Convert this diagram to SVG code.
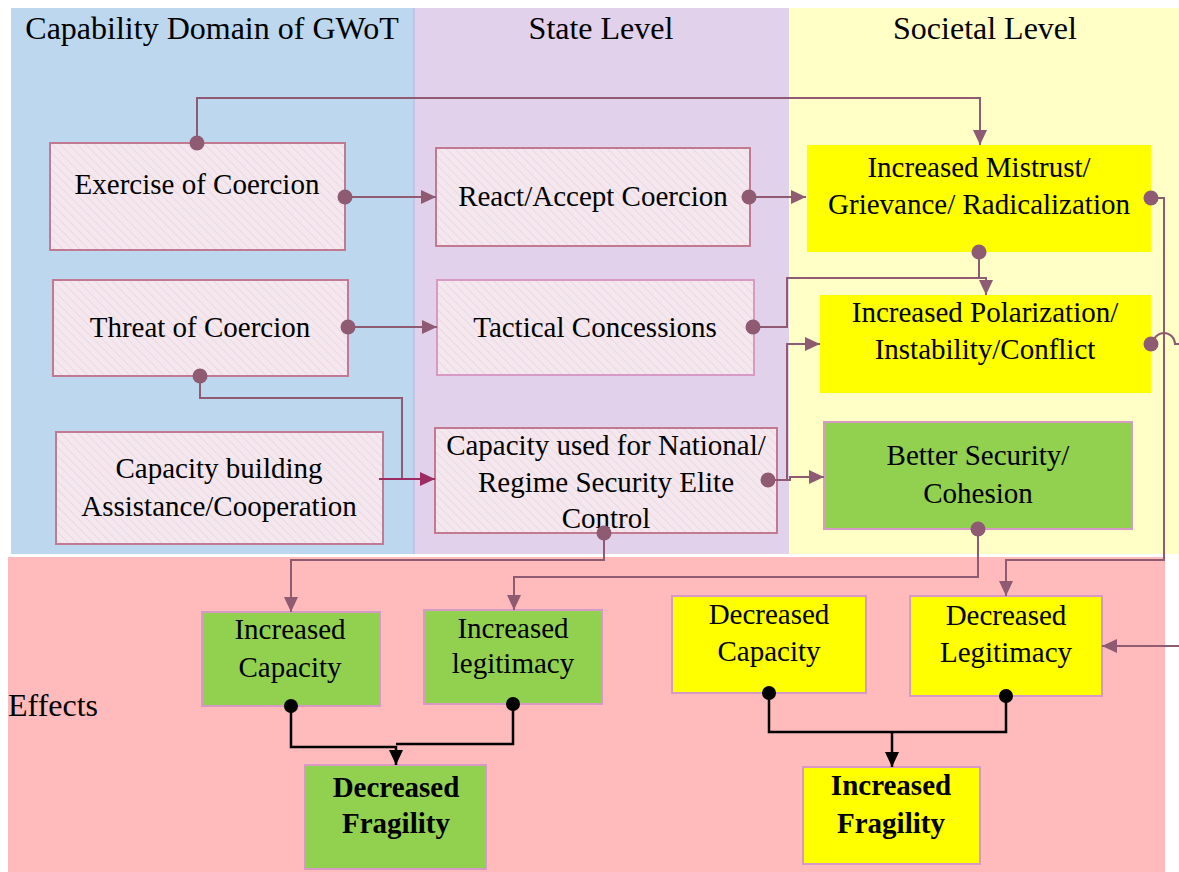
<svg xmlns="http://www.w3.org/2000/svg" width="1179" height="872" viewBox="0 0 1179 872">
<style>
text{font-family:"Liberation Serif","Times New Roman",serif;font-size:29px;fill:#000;text-anchor:middle}
.title{font-size:32px}
.bold{font-weight:bold}
.hatch{fill:url(#hatch);stroke:#C27A92;stroke-width:2}
.hatch2{fill:url(#hatch);stroke:#D79AC4;stroke-width:2}
.yel{fill:#FFFF00}
.yelb{fill:#FFFF00;stroke:#D79AC4;stroke-width:2}
.grn{fill:#92D050;stroke:#D79AC4;stroke-width:2}
.con{fill:none;stroke:#8E5B73;stroke-width:2}
.mag{fill:none;stroke:#9B2D63;stroke-width:2}
.blk{fill:none;stroke:#000;stroke-width:2.5}
.dot{fill:#8E5B73}
.bdot{fill:#000}
</style>
<defs>
<pattern id="hatch" width="6" height="6" patternUnits="userSpaceOnUse" patternTransform="rotate(-45)">
<rect width="6" height="6" fill="#F4E8EE"/>
<line x1="0" y1="0" x2="0" y2="6" stroke="#EAD3DE" stroke-width="1.5"/>
</pattern>
<marker id="arr" markerWidth="16" markerHeight="14" refX="15" refY="7" orient="auto" markerUnits="userSpaceOnUse">
<path d="M0,0 L15,7 L0,14 Z" fill="#8E5B73"/>
</marker>
<marker id="arrm" markerWidth="16" markerHeight="14" refX="15" refY="7" orient="auto" markerUnits="userSpaceOnUse">
<path d="M0,0 L15,7 L0,14 Z" fill="#9B2D63"/>
</marker>
<marker id="arrb" markerWidth="16" markerHeight="14" refX="15" refY="7" orient="auto" markerUnits="userSpaceOnUse">
<path d="M0,0 L15,7 L0,14 Z" fill="#000"/>
</marker>
</defs>

<g id="background">
<rect x="11" y="8" width="403" height="546" fill="#BDD7EE"/>
<rect x="414" y="8" width="375" height="546" fill="#E1D1EA"/>
<rect x="789" y="8" width="390" height="546" fill="#FFFFC6"/>
<line x1="414" y1="8" x2="414" y2="554" stroke="#A9B9E6" stroke-width="1"/>
<rect x="8" y="557" width="1157" height="315" fill="#FFBBBB"/>
<text class="title" x="212" y="39">Capability Domain of GWoT</text>
<text class="title" x="601" y="39">State Level</text>
<text class="title" x="985" y="39">Societal Level</text>
<text x="8" y="716" style="text-anchor:start;font-size:32px">Effects</text>
</g>

<g id="n-exercise">
<rect class="hatch" x="50" y="143" width="295" height="107"/>
<text x="197" y="194">Exercise of Coercion</text>
</g>
<g id="n-react">
<rect class="hatch" x="436" y="148" width="314" height="98"/>
<text x="593" y="206">React/Accept Coercion</text>
</g>
<g id="n-mistrust">
<rect class="yel" x="807" y="145" width="344" height="107"/>
<text x="979" y="177">Increased Mistrust/</text>
<text x="979" y="214">Grievance/ Radicalization</text>
</g>
<g id="n-threat">
<rect class="hatch" x="53" y="280" width="295" height="96"/>
<text x="200" y="337">Threat of Coercion</text>
</g>
<g id="n-tactical">
<rect class="hatch2" x="437" y="280" width="317" height="95"/>
<text x="595" y="337">Tactical Concessions</text>
</g>
<g id="n-polarization">
<rect class="yel" x="820" y="295" width="331" height="98"/>
<text x="985" y="322">Increased Polarization/</text>
<text x="985" y="359">Instability/Conflict</text>
</g>
<g id="n-capbuild">
<rect class="hatch" x="56" y="432" width="327" height="112"/>
<text x="219" y="478">Capacity building</text>
<text x="219" y="516">Assistance/Cooperation</text>
</g>
<g id="n-capused">
<rect class="hatch" x="435" y="428" width="342" height="105"/>
<text x="606" y="455">Capacity used for National/</text>
<text x="606" y="492">Regime Security Elite</text>
<text x="606" y="528">Control</text>
</g>
<g id="n-better">
<rect class="grn" x="824" y="422" width="308" height="107"/>
<text x="978" y="465">Better Security/</text>
<text x="978" y="503">Cohesion</text>
</g>
<g id="n-inccap">
<rect class="grn" x="202" y="612" width="178" height="94"/>
<text x="290" y="639">Increased</text>
<text x="290" y="677">Capacity</text>
</g>
<g id="n-inclegit">
<rect class="grn" x="424" y="610" width="178" height="94"/>
<text x="513" y="638">Increased</text>
<text x="513" y="673">legitimacy</text>
</g>
<g id="n-decfrag">
<rect class="grn" x="305" y="765" width="181" height="104"/>
<text class="bold" x="396" y="797">Decreased</text>
<text class="bold" x="396" y="833">Fragility</text>
</g>
<g id="n-deccap">
<rect class="yelb" x="672" y="596" width="194" height="97"/>
<text x="769" y="624">Decreased</text>
<text x="769" y="661">Capacity</text>
</g>
<g id="n-declegit">
<rect class="yelb" x="910" y="596" width="192" height="100"/>
<text x="1006" y="625">Decreased</text>
<text x="1006" y="662">Legitimacy</text>
</g>
<g id="n-incfrag">
<rect class="yelb" x="803" y="767" width="177" height="97"/>
<text class="bold" x="891" y="795">Increased</text>
<text class="bold" x="891" y="833">Fragility</text>
</g>

<g id="connectors">
<path class="con" d="M197,143 V98 H980 V145" marker-end="url(#arr)"/>
<path class="con" d="M345,197 H436" marker-end="url(#arr)"/>
<path class="con" d="M750,197 H806" marker-end="url(#arr)"/>
<path class="con" d="M348,327 H437" marker-end="url(#arr)"/>
<path class="con" d="M753,327 H787 V278 H986 V295" marker-end="url(#arr)"/>
<path class="con" d="M979,252 V278"/>
<path class="con" d="M200,376 V398 H402 V479 H420"/>
<path class="mag" d="M379,479 H435" marker-end="url(#arrm)"/>
<path class="con" d="M768,480 H790 V477 H824" marker-end="url(#arr)"/>
<path class="con" d="M787,480 V344 H820" marker-end="url(#arr)"/>
<path class="con" d="M604,533 V560 H291 V612" marker-end="url(#arr)"/>
<path class="con" d="M978,529 V577 H514 V610" marker-end="url(#arr)"/>
<path class="con" d="M1151,198 H1164 V560 H1006 V596" marker-end="url(#arr)"/>
<path class="con" d="M1151,344 H1153 A11,11 0 0 1 1175,344 H1192 V646 H1102" marker-end="url(#arr)"/>
<path class="blk" d="M291,706 V747 H396 V765" marker-end="url(#arrb)"/>
<path class="blk" d="M513,704 V744 H396"/>
<path class="blk" d="M769,693 V732 H1006 V696"/>
<path class="blk" d="M892,732 V767" marker-end="url(#arrb)"/>
<circle class="dot" cx="197" cy="143" r="7.5"/>
<circle class="dot" cx="345" cy="197" r="7.5"/>
<circle class="dot" cx="749" cy="197" r="7.5"/>
<circle class="dot" cx="348" cy="327" r="7.5"/>
<circle class="dot" cx="200" cy="376" r="7.5"/>
<circle class="dot" cx="753" cy="327" r="7.5"/>
<circle class="dot" cx="979" cy="252" r="7.5"/>
<circle class="dot" cx="1151" cy="198" r="7.5"/>
<circle class="dot" cx="1151" cy="344" r="7.5"/>
<circle class="dot" cx="768" cy="480" r="7.5"/>
<circle class="dot" cx="604" cy="533" r="7.5"/>
<circle class="dot" cx="978" cy="529" r="7.5"/>
<circle class="bdot" cx="291" cy="706" r="7"/>
<circle class="bdot" cx="513" cy="704" r="7"/>
<circle class="bdot" cx="769" cy="693" r="7"/>
<circle class="bdot" cx="1006" cy="696" r="7"/>
</g>
</svg>
